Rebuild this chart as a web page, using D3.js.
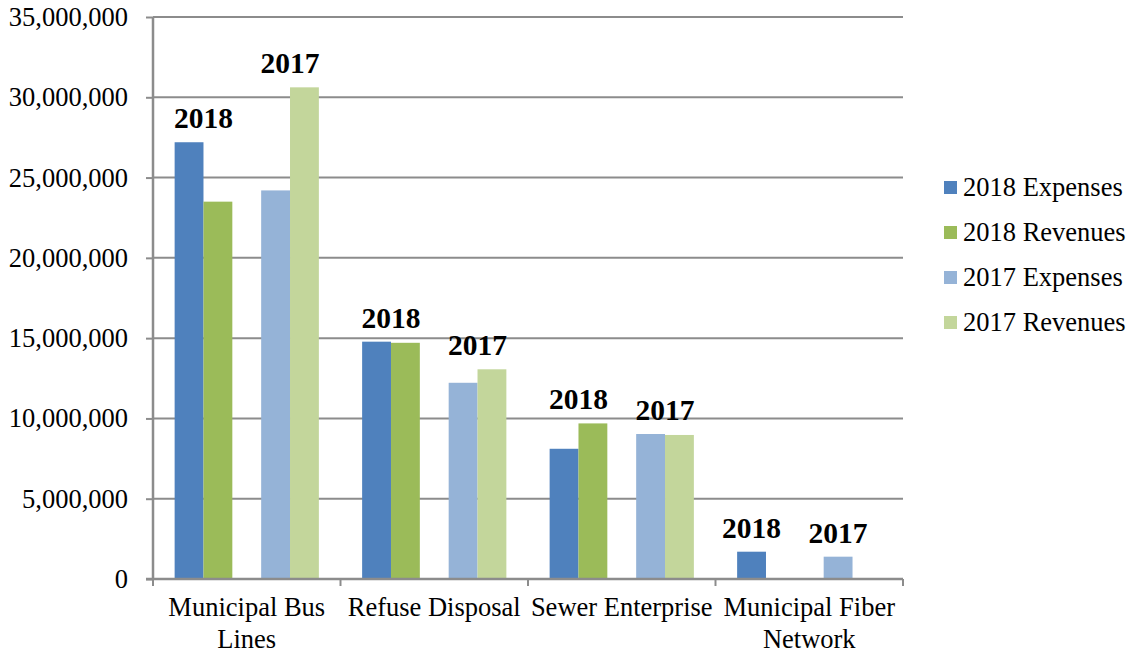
<!DOCTYPE html>
<html>
<head>
<meta charset="utf-8">
<script src="https://cdn.jsdelivr.net/npm/d3@7"></script>
<style>
    body { margin: 0; background: #fff; }
    svg text { font-family: "Liberation Serif", "Times New Roman", serif; fill: #000; }
</style>
</head>
<body>
<svg id="chart" width="1132" height="653"></svg>
<script>
// chart values
const categories = ["Municipal Bus Lines", "Refuse Disposal", "Sewer Enterprise", "Municipal Fiber Network"];
const seriesNames = ["2018 Expenses", "2018 Revenues", "2017 Expenses", "2017 Revenues"];
const expenses2018 = [27200000, 14780000, 8110000, 1700000];
const revenues2018 = [23500000, 14710000, 9690000, 0];
const expenses2017 = [24200000, 12220000, 9030000, 1390000];
const revenues2017 = [30620000, 13060000, 8970000, 0];
const yearLabels = ["2018", "2017"];
const yTicks = [0, 5000000, 10000000, 15000000, 20000000, 25000000, 30000000, 35000000];

const colors = ["#4F81BD", "#9BBB59", "#95B3D7", "#C3D69B"];
const seriesValues = [expenses2018, revenues2018, expenses2017, revenues2017];
const fontSize = 26.5;

const svg = d3.select("#chart");
const margin = {left: 153, right: 229, top: 17, bottom: 74};
const width = 1132 - margin.left - margin.right,
    height = 653 - margin.top - margin.bottom;

const g = svg.append("g").attr("transform", `translate(${margin.left},${margin.top})`);

const x = d3.scaleBand().domain(categories).range([0, width]);
// 5 slots per group, middle slot left empty, gap of 1.5 bars around
const slotW = x.bandwidth() / 6.5;
const slotX = [0, 1, 3, 4].map(i => slotW * 0.75 + i * slotW);

const y = d3.scaleLinear().domain([0, 35000000]).range([height, 0]);

// gridlines
g.append("g")
    .selectAll("line")
    .data(yTicks.filter(d => d > 0))
    .enter().append("line")
    .attr("x1", 0).attr("x2", width)
    .attr("y1", d => y(d)).attr("y2", d => y(d))
    .attr("stroke", "#8c8c8c")
    .attr("stroke-width", 2);

// y axis
const yAxis = g.append("g")
    .call(d3.axisLeft(y).tickValues(yTicks).tickSize(7).tickPadding(18)
        .tickFormat(d3.format(",")));
yAxis.selectAll("text").attr("font-size", fontSize);
yAxis.selectAll(".tick line").attr("stroke", "#8c8c8c").attr("stroke-width", 2);
yAxis.select(".domain").remove();

// bars
categories.forEach((cat, ci) => {
    seriesValues.forEach((vals, si) => {
        const v = vals[ci];
        if (!v) return;
        g.append("rect")
            .attr("x", x(cat) + slotX[si])
            .attr("y", y(v))
            .attr("width", slotW)
            .attr("height", y(0) - y(v))
            .attr("fill", colors[si]);
    });
});

// year labels over each pair
categories.forEach((cat, ci) => {
    yearLabels.forEach((yr, yi) => {
        const a = seriesValues[yi * 2][ci], b = seriesValues[yi * 2 + 1][ci];
        const top = Math.max(a, b);
        const cx = b ? x(cat) + slotX[yi * 2] + slotW : x(cat) + slotX[yi * 2] + slotW / 2;
        g.append("text")
            .attr("x", cx)
            .attr("y", y(top) - 14)
            .attr("text-anchor", "middle")
            .attr("font-size", 29.5)
            .attr("font-weight", "bold")
            .text(yr);
    });
});

// y axis line + x axis line
g.append("line")
    .attr("x1", 0).attr("x2", 0).attr("y1", 0).attr("y2", height)
    .attr("stroke", "#8c8c8c").attr("stroke-width", 2.5);

g.append("line")
    .attr("x1", -7).attr("x2", width).attr("y1", height).attr("y2", height)
    .attr("stroke", "#8c8c8c").attr("stroke-width", 2.5);

// category ticks at band edges
g.append("g")
    .selectAll("line")
    .data(categories.map(c => x(c)).concat([width]))
    .enter().append("line")
    .attr("x1", d => d).attr("x2", d => d)
    .attr("y1", height).attr("y2", height + 7)
    .attr("stroke", "#8c8c8c").attr("stroke-width", 2);

// category labels, wrapped to the band
const catText = g.append("g")
    .selectAll("text")
    .data(categories)
    .enter().append("text")
    .attr("font-size", fontSize)
    .attr("text-anchor", "middle")
    .attr("x", d => x(d) + x.bandwidth() / 2)
    .attr("y", height + 37);

catText.each(function(d) {
    const t = d3.select(this);
    const words = d.split(" ");
    let line = [];
    let tspan = t.append("tspan").attr("x", x(d) + x.bandwidth() / 2).attr("dy", 0);
    words.forEach(w => {
        line.push(w);
        tspan.text(line.join(" "));
        if (tspan.node().getComputedTextLength() > x.bandwidth() + 4 && line.length > 1) {
            line.pop();
            tspan.text(line.join(" "));
            line = [w];
            tspan = t.append("tspan").attr("x", x(d) + x.bandwidth() / 2).attr("dy", 32).text(w);
        }
    });
});

// legend
const legend = svg.append("g").attr("transform", "translate(944,188)");
seriesNames.forEach((name, i) => {
    const row = legend.append("g").attr("transform", `translate(0,${i * 45})`);
    row.append("rect").attr("x", 0).attr("y", -7).attr("width", 13).attr("height", 13).attr("fill", colors[i]);
    row.append("text").attr("x", 19).attr("y", 8).attr("font-size", fontSize).text(name);
});
</script>
</body>
</html>
